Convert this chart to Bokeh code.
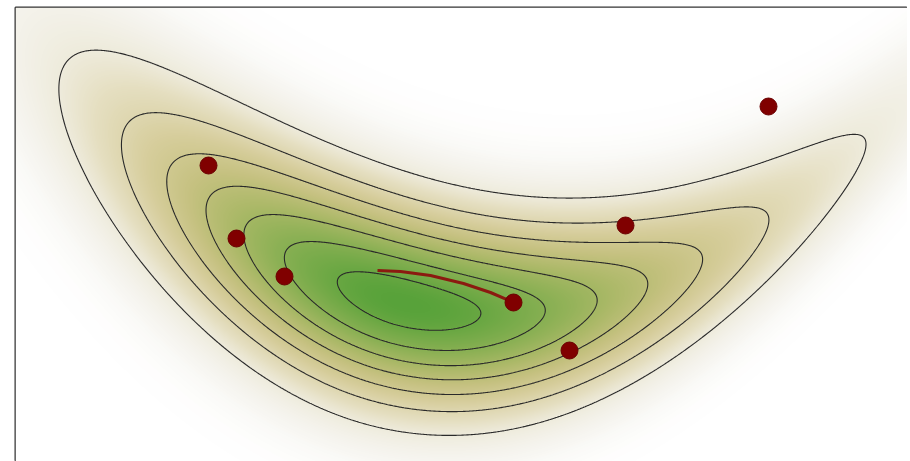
import numpy as np
from bokeh.plotting import figure
from bokeh.models import Range1d, LinearColorMapper
from bokeh.embed import file_html
from bokeh.resources import INLINE

# Sample points (red dots)
dots_x = [7.53, 1.93, 2.21, 2.69, 4.98, 6.10, 5.54]
dots_y = [3.55, 2.96, 2.23, 1.85, 1.59, 2.36, 1.11]

# Trajectory (red line)
path_x = [3.62, 3.85, 4.15, 4.48, 4.75, 4.98]
path_y = [1.91, 1.90, 1.86, 1.78, 1.69, 1.59]

# Banana-shaped density parameters (rotated, curved ridge)
center_x, center_y = 4.0775, 1.5422
rotation = -0.2003
spread_left, spread_right = 1.9059, 2.0993
width = 0.6309
curv2, curv3 = 0.1228, 0.0069
width_trend = -0.0181
peak_shift = -0.1937
level_step = np.exp(-2.0135)
n_levels = 7

W, H = 8.92, 4.54


def density(x, y):
    dx = x - center_x
    dy = y - center_y
    cb, sb = np.cos(rotation), np.sin(rotation)
    s = cb * dx + sb * dy
    t = -sb * dx + cb * dy
    a = np.where(s < peak_shift, spread_left, spread_right)
    b = width * np.exp(width_trend * s)
    return np.exp(-(s - peak_shift) ** 2 / (2 * a * a)
                  - (t - curv2 * s * s - curv3 * s ** 3) ** 2 / (2 * b * b))


xs = np.linspace(0, W, 892)
ys = np.linspace(0, H, 454)
X, Y = np.meshgrid(xs, ys)
Z = density(X, Y)

anchors = [(0.0, (255, 255, 255)), (0.05, (246, 245, 240)), (0.13, (238, 235, 220)),
           (0.2, (229, 223, 193)), (0.34, (214, 205, 155)), (0.48, (197, 193, 128)),
           (0.62, (173, 185, 105)), (0.75, (146, 178, 88)), (0.89, (116, 170, 72)),
           (1.0, (88, 162, 58))]
pal = []
for i in range(256):
    v = i / 255
    for j in range(len(anchors) - 1):
        v0, c0 = anchors[j]
        v1, c1 = anchors[j + 1]
        if v0 <= v <= v1:
            f = (v - v0) / (v1 - v0)
            c = [int(round(c0[m] + f * (c1[m] - c0[m]))) for m in range(3)]
            pal.append("#%02x%02x%02x" % tuple(c))
            break

p = figure(width=907, height=461, output_backend="svg", toolbar_location=None,
           x_range=Range1d(0, W), y_range=Range1d(0, H),
           min_border_left=15, min_border_right=0, min_border_top=7, min_border_bottom=0)
p.axis.visible = False
p.grid.visible = False
p.outline_line_color = "#333333"
p.outline_line_width = 2
p.background_fill_color = "white"

p.image(image=[Z], x=0, y=0, dw=W, dh=H,
        color_mapper=LinearColorMapper(palette=pal, low=0, high=1))
p.contour(X, Y, Z, levels=[level_step * k for k in range(1, n_levels + 1)],
          line_color="#2a2a2a", line_width=1.1)
p.line(path_x, path_y, line_color="#8b1a10", line_width=3)
p.scatter(dots_x, dots_y, size=17, fill_color="#800000", line_color="#6a0000", line_width=1)

open("out.html", "w").write(file_html(p, INLINE))
